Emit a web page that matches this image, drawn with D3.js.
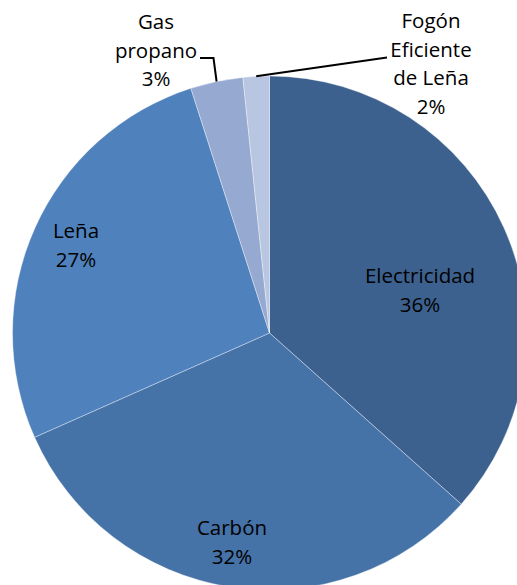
<!DOCTYPE html>
<html>
<head>
<meta charset="utf-8">
<script src="https://cdn.jsdelivr.net/npm/d3@7"></script>
<style>
	body { margin: 0; background: #fff; }
	svg text { font-family: "Open Sans", sans-serif; font-size: 20.5px; fill: #000; }
</style>
</head>
<body>
<svg id="chart" width="517" height="585"></svg>
<script>
// data
var categories = ['Electricidad', 'Carbón', 'Leña', 'Gas propano', 'Fogón Eficiente de Leña'];
var values = [36.6, 31.75, 26.7, 3.3, 1.65];
var pctLabels = ['36%', '32%', '27%', '3%', '2%'];
var labelLines = [['Electricidad'], ['Carbón'], ['Leña'], ['Gas', 'propano'], ['Fogón', 'Eficiente', 'de Leña']];

var colors = ['#3c618f', '#4572a7', '#4f81bd', '#95a9d1', '#b9c6e1'];

// layout (label centre x, first baseline y)
var cx = 269.5, cy = 333, radius = 257;
var labelPos = [[420, 283], [232, 535], [76, 238], [156, 29], [431, 28]];
var lineH = 28.5;

var svg = d3.select('#chart');

var pie = d3.pie().sort(null).value(function(d) { return d; });
var arc = d3.arc().innerRadius(0).outerRadius(radius);
var arcs = pie(values);

var g = svg.append('g').attr('transform', 'translate(' + cx + ',' + cy + ')');

g.selectAll('path')
	.data(arcs)
	.enter().append('path')
	.attr('d', arc)
	.attr('fill', function(d, i) { return colors[i]; })
	.attr('stroke', 'rgba(255,255,255,0.45)')
	.attr('stroke-width', 0.8);

// leader lines for the two small slices
var outer = d3.arc().innerRadius(radius).outerRadius(radius);
var pGas = outer.centroid(arcs[3]);
var pFog = outer.centroid(arcs[4]);
var leaders = [
	[[200, 58], [213.5, 58], [cx + pGas[0], cy + pGas[1]]],
	[[387, 57.5], [cx + pFog[0], cy + pFog[1]]]
];
svg.selectAll('polyline.leader')
	.data(leaders)
	.enter().append('polyline')
	.attr('class', 'leader')
	.attr('points', function(d) { return d.map(function(p) { return p.join(','); }).join(' '); })
	.attr('fill', 'none')
	.attr('stroke', '#000')
	.attr('stroke-width', 2);

var labels = svg.selectAll('text.lbl')
	.data(categories)
	.enter().append('text')
	.attr('class', 'lbl')
	.attr('text-anchor', 'middle')
	.attr('x', function(d, i) { return labelPos[i][0]; })
	.attr('y', function(d, i) { return labelPos[i][1]; });

labels.each(function(d, i) {
	var t = d3.select(this);
	labelLines[i].concat([pctLabels[i]]).forEach(function(line, j) {
		t.append('tspan')
			.attr('x', labelPos[i][0])
			.attr('dy', j === 0 ? 0 : lineH)
			.text(line);
	});
});
</script>
</body>
</html>
